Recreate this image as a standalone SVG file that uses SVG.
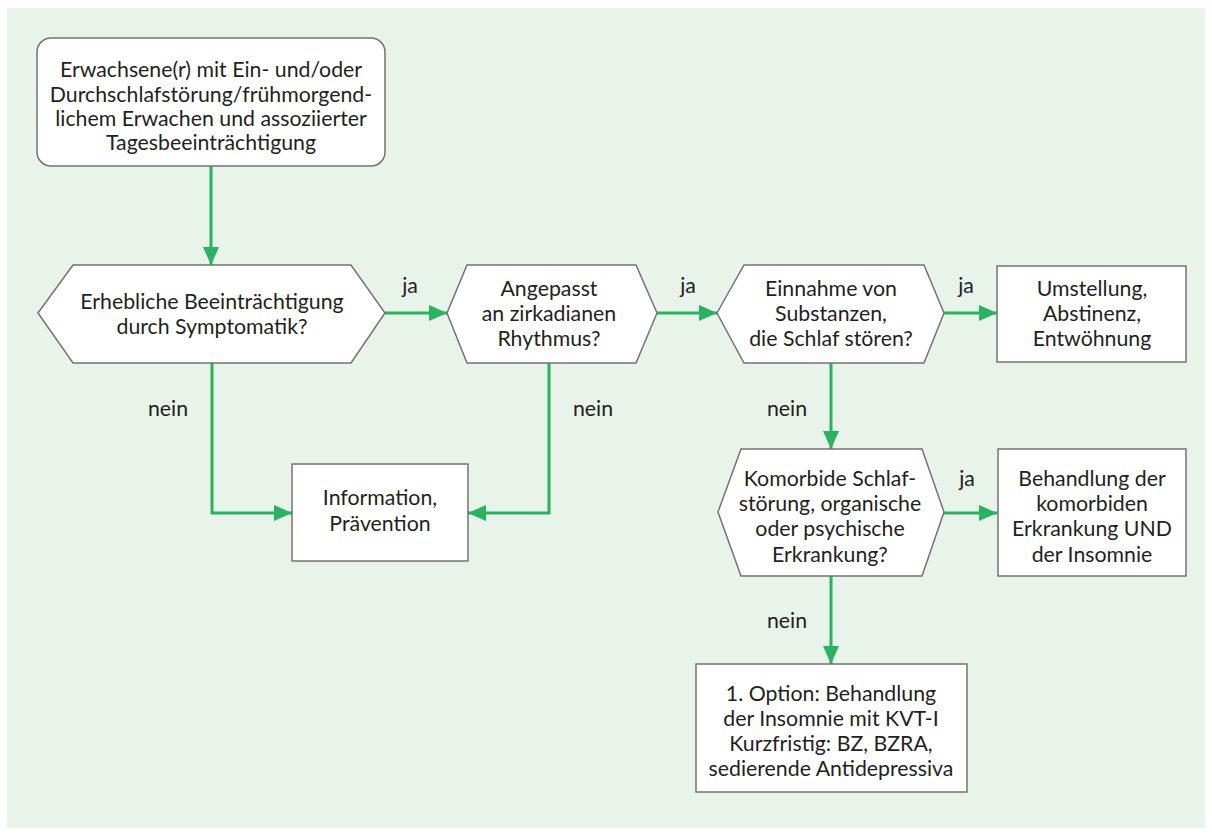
<svg xmlns="http://www.w3.org/2000/svg" width="1212" height="835" viewBox="0 0 1212 835">
<defs>
<marker id="arr" markerUnits="userSpaceOnUse" markerWidth="20" markerHeight="16" refX="18" refY="8" orient="auto">
<path d="M0,0 L18,8 L0,16 Z" fill="#27b35f"/>
</marker>
<style>
.node{fill:#fff;stroke:#737373;stroke-width:1.5}
.t{font-family:Lato,"Open Sans","Liberation Sans",sans-serif;font-size:21.3px;fill:#231f20;text-anchor:middle;dominant-baseline:central}
.lbl{font-family:Lato,"Open Sans","Liberation Sans",sans-serif;font-size:21.3px;fill:#231f20;text-anchor:middle;dominant-baseline:central}
.c{fill:none;stroke:#27b35f;stroke-width:3;marker-end:url(#arr)}
</style>
</defs>
<rect x="0" y="0" width="1212" height="835" fill="#fff"/>
<rect x="7" y="8" width="1198" height="820" fill="#e8f3ea"/>

<g id="connectors">
<path class="c" d="M211,166 V265"/>
<path class="c" d="M385,313 H447"/>
<path class="c" d="M657,313 H717"/>
<path class="c" d="M944,313 H997"/>
<path class="c" d="M212,363 V513 H292"/>
<path class="c" d="M549,363 V513 H468"/>
<path class="c" d="M831,363 V449"/>
<path class="c" d="M944,513 H997"/>
<path class="c" d="M831,576 V664"/>
<text class="lbl" x="410" y="285">ja</text>
<text class="lbl" x="688" y="285">ja</text>
<text class="lbl" x="966" y="285">ja</text>
<text class="lbl" x="967" y="478">ja</text>
<text class="lbl" x="168" y="408">nein</text>
<text class="lbl" x="593" y="408">nein</text>
<text class="lbl" x="787" y="408">nein</text>
<text class="lbl" x="787" y="620">nein</text>
</g>

<g id="start">
<rect class="node" x="37" y="38" width="348" height="128" rx="14"/>
<text class="t" x="211" y="69">Erwachsene(r) mit Ein- und/oder</text>
<text class="t" x="211" y="93.5">Durchschlafstörung/frühmorgend-</text>
<text class="t" x="211" y="118">lichem Erwachen und assoziierter</text>
<text class="t" x="211" y="142">Tagesbeeinträchtigung</text>
</g>

<g id="q1">
<polygon class="node" points="38,313 73,265 351,265 385,313 351,363 73,363"/>
<text class="t" x="212" y="301">Erhebliche Beeinträchtigung</text>
<text class="t" x="212" y="326">durch Symptomatik?</text>
</g>

<g id="q2">
<polygon class="node" points="447,313 467,265 636,265 657,313 636,363 467,363"/>
<text class="t" x="549" y="288">Angepasst</text>
<text class="t" x="549" y="313">an zirkadianen</text>
<text class="t" x="549" y="338">Rhythmus?</text>
</g>

<g id="q3">
<polygon class="node" points="717,313 744,265 924,265 944,313 924,363 744,363"/>
<text class="t" x="831" y="288">Einnahme von</text>
<text class="t" x="831" y="313">Substanzen,</text>
<text class="t" x="831" y="338">die Schlaf stören?</text>
</g>

<g id="umstellung">
<rect class="node" x="997" y="266" width="189" height="96"/>
<text class="t" x="1092" y="288">Umstellung,</text>
<text class="t" x="1092" y="313">Abstinenz,</text>
<text class="t" x="1092" y="338">Entwöhnung</text>
</g>

<g id="info">
<rect class="node" x="292" y="464" width="176" height="97"/>
<text class="t" x="380" y="497">Information,</text>
<text class="t" x="380" y="523">Prävention</text>
</g>

<g id="q4">
<polygon class="node" points="718,512 741,449 922,449 944,512 922,576 741,576"/>
<text class="t" x="830" y="478">Komorbide Schlaf-</text>
<text class="t" x="830" y="503">störung, organische</text>
<text class="t" x="830" y="528">oder psychische</text>
<text class="t" x="830" y="554">Erkrankung?</text>
</g>

<g id="komorbid">
<rect class="node" x="998" y="449" width="188" height="127"/>
<text class="t" x="1092" y="478">Behandlung der</text>
<text class="t" x="1092" y="503">komorbiden</text>
<text class="t" x="1092" y="528">Erkrankung UND</text>
<text class="t" x="1092" y="554">der Insomnie</text>
</g>

<g id="option">
<rect class="node" x="696" y="664" width="271" height="128"/>
<text class="t" x="831" y="693">1. Option: Behandlung</text>
<text class="t" x="831" y="718">der Insomnie mit KVT-I</text>
<text class="t" x="831" y="743">Kurzfristig: BZ, BZRA,</text>
<text class="t" x="831" y="768">sedierende Antidepressiva</text>
</g>
</svg>
